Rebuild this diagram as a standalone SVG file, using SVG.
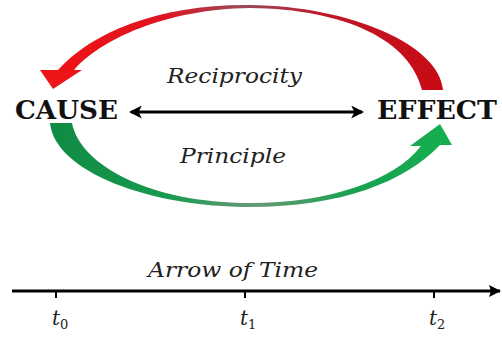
<svg xmlns="http://www.w3.org/2000/svg" width="502" height="339" viewBox="0 0 502 339">
  <defs>
    <linearGradient id="redGrad" gradientUnits="userSpaceOnUse" x1="40" y1="0" x2="445" y2="0">
      <stop offset="0" stop-color="#f01414"/>
      <stop offset="0.3" stop-color="#e01420"/>
      <stop offset="0.5" stop-color="#9a4a58"/>
      <stop offset="0.7" stop-color="#c01828"/>
      <stop offset="1" stop-color="#c80a14"/>
    </linearGradient>
    <linearGradient id="greenGrad" gradientUnits="userSpaceOnUse" x1="50" y1="0" x2="455" y2="0">
      <stop offset="0" stop-color="#0f8a44"/>
      <stop offset="0.3" stop-color="#1a9a50"/>
      <stop offset="0.5" stop-color="#6a9a78"/>
      <stop offset="0.75" stop-color="#1aa050"/>
      <stop offset="1" stop-color="#14b050"/>
    </linearGradient>
    <marker id="ah" viewBox="0 0 12 12" refX="10" refY="6" markerWidth="13" markerHeight="13" markerUnits="userSpaceOnUse" orient="auto-start-reverse">
      <path d="M0,0 L12,6 L0,12 L3,6 Z" fill="#000"/>
    </marker>
    <marker id="ahTime" viewBox="0 0 12 12" refX="11" refY="6" markerWidth="13" markerHeight="12" markerUnits="userSpaceOnUse" orient="auto">
      <path d="M0,0 L12,6 L0,12 L2,6 Z" fill="#000"/>
    </marker>
  </defs>
  <style>
    .node { font-family: "DejaVu Serif", "Liberation Serif", serif; font-weight: bold; font-size: 26px; fill: #111; }
    .lbl { font-family: "DejaVu Serif", "Liberation Serif", serif; font-style: italic; font-size: 20px; fill: #222; }
    .t { font-family: "DejaVu Serif", "Liberation Serif", serif; font-style: italic; font-size: 20px; fill: #222; }
    .sub { font-size: 13px; font-style: normal; }
    .axis { stroke: #000; stroke-width: 3; fill: none; }
    .tick { stroke: #000; stroke-width: 2; }
  </style>

  <g id="connectors">
    <path id="red-arc" fill="url(#redGrad)" d="M443,90 C440,45 350,6 250,5 C160,4 92,32 58,70 L40,70 L53,89 L82,70 L74,70 C100,40 165,9 250,8 C345,9 410,40 422,90 Z"/>
    <path id="green-arc" fill="url(#greenGrad)" d="M50,123 C55,172 150,207 250,207 C340,207 405,182 440,145 L452,145 L440,124 L410,146 L421,146 C395,180 330,203 250,203 C150,203 80,165 72,123 Z"/>
    <line x1="131" y1="112" x2="362" y2="112" stroke="#000" stroke-width="3" marker-start="url(#ah)" marker-end="url(#ah)"/>
  </g>

  <g id="cause">
    <text class="node" x="15" y="119" textLength="103" lengthAdjust="spacingAndGlyphs">CAUSE</text>
  </g>
  <g id="effect">
    <text class="node" x="377" y="119" textLength="120" lengthAdjust="spacingAndGlyphs">EFFECT</text>
  </g>

  <g id="labels">
    <text class="lbl" x="167" y="83" textLength="135" lengthAdjust="spacingAndGlyphs">Reciprocity</text>
    <text class="lbl" x="180" y="163" textLength="106" lengthAdjust="spacingAndGlyphs">Principle</text>
  </g>

  <g id="time-axis">
    <line class="axis" x1="12" y1="291" x2="500" y2="291" marker-end="url(#ahTime)"/>
    <line class="tick" x1="56" y1="291" x2="56" y2="298"/>
    <line class="tick" x1="245" y1="291" x2="245" y2="298"/>
    <line class="tick" x1="434" y1="291" x2="434" y2="298"/>
    <text class="lbl" x="148" y="277" textLength="170" lengthAdjust="spacingAndGlyphs">Arrow of Time</text>
    <text class="t" x="52" y="325">t<tspan class="sub" dy="4">0</tspan></text>
    <text class="t" x="240" y="325">t<tspan class="sub" dy="4">1</tspan></text>
    <text class="t" x="429" y="325">t<tspan class="sub" dy="4">2</tspan></text>
  </g>
</svg>
